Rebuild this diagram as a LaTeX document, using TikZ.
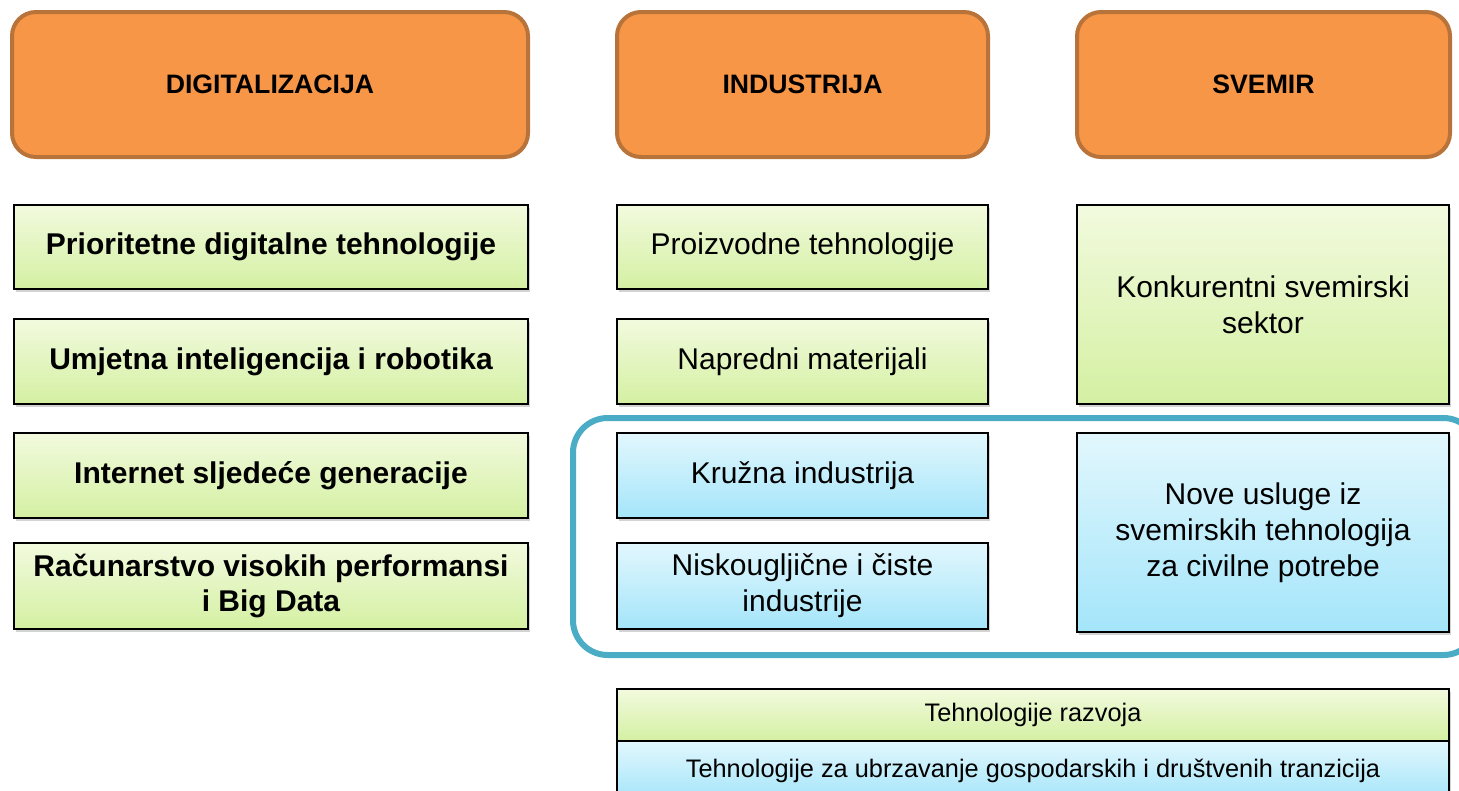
\documentclass[tikz,border=0pt]{standalone}
\usepackage{fontspec}
\setmainfont{Liberation Sans}
\usetikzlibrary{shadows, positioning}

\definecolor{headFill}{HTML}{F79646}
\definecolor{headLine}{HTML}{B8733A}
\definecolor{greenTop}{HTML}{F2FADE}
\definecolor{greenBot}{HTML}{D4F0A2}
\definecolor{blueTop}{HTML}{E2F7FD}
\definecolor{blueBot}{HTML}{A4E5FA}
\definecolor{frameLine}{HTML}{4BACC6}

\begin{document}
\begin{tikzpicture}[
            x=0.75pt, y=-0.75pt,
            area/.style args={#1x#2}{
                minimum width={#1*0.75pt},
                minimum height={#2*0.75pt}
            },
            header/.style={
                draw=headLine, line width=3pt, fill=headFill,
                rounded corners=18pt, inner sep=0pt,
                font=\fontsize{20}{24}\selectfont\bfseries
            },
            box/.style={
                draw=black, line width=1pt, inner sep=0pt, align=center,
                drop shadow={opacity=0.35, shadow xshift=1.5pt, shadow yshift=-2pt},
                font=\fontsize{22.5}{27}\selectfont
            },
            greenbox/.style={box, top color=greenTop, bottom color=greenBot},
            bluebox/.style={box, top color=blueTop, bottom color=blueBot},
            bold/.style={font=\fontsize{22.5}{26}\selectfont\bfseries},
            strip/.style={font=\fontsize{19}{23}\selectfont}
        ]
        \useasboundingbox (0,0) rectangle (1459,790);

        % column headers
        \node[header, area=516x145] (digital) at (270,84.5) {DIGITALIZACIJA};
        \node[header, area=371x145] (industry) at (802.5,84.5) {INDUSTRIJA};
        \node[header, area=373x145] (space) at (1263.5,84.5) {SVEMIR};

        % frame round the blue boxes
        \draw[frameLine, line width=4.5pt, rounded corners=26pt] (573,418) rectangle (1478,655);

        \node[greenbox, bold, area=514x84] (prio) at (271,247) {Prioritetne digitalne tehnologije};
        \node[greenbox, bold, area=514x85] (ai) at (271,361.5) {Umjetna inteligencija i robotika};
        \node[greenbox, bold, area=514x85] (net) at (271,475.5) {Internet sljedeće generacije};
        \node[greenbox, bold, area=514x86] (hpc) at (271,586) {Računarstvo visokih performansi\\i Big Data};

        \node[greenbox, area=371x84] (prod) at (802.5,247) {Proizvodne tehnologije};
        \node[greenbox, area=371x85] (mat) at (802.5,361.5) {Napredni materijali};
        \node[bluebox, area=371x85] (circ) at (802.5,475.5) {Kružna industrija};
        \node[bluebox, area=371x86] (clean) at (802.5,586) {Niskougljične i čiste\\industrije};

        \node[greenbox, area=372x199] (compet) at (1263,304.5) {Konkurentni svemirski\\sektor};
        \node[bluebox, area=372x199] (civil) at (1263,532.5) {Nove usluge iz\\svemirskih tehnologija\\za civilne potrebe};

        \node[greenbox, strip, area=832x52] (devel) at (1033,715) {Tehnologije razvoja};
        \node[bluebox, strip, area=832x59] (trans) at (1033,770.5) {Tehnologije za ubrzavanje gospodarskih i društvenih tranzicija};
    \end{tikzpicture}
\end{document}
